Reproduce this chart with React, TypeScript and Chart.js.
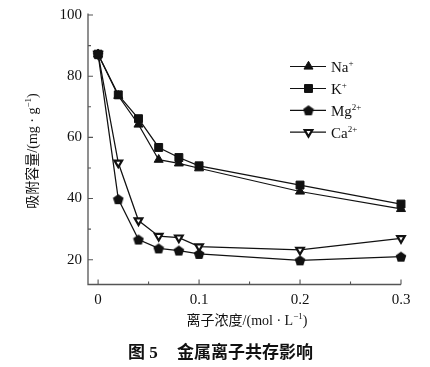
import React, { useEffect, useRef } from 'react';
import { Chart, registerables } from 'chart.js';
import * as helpers from 'chart.js/helpers';

Chart.register(...registerables);

// ---- data ----
const concentrations = [0, 0.02, 0.04, 0.06, 0.08, 0.1, 0.2, 0.3];
const naValues = [87.2, 73.6, 64.2, 52.7, 51.5, 49.9, 42.3, 36.6];
const kValues = [87.2, 73.9, 66.1, 56.7, 53.4, 50.7, 44.4, 38.2];
const mgValues = [87.2, 39.8, 26.6, 23.7, 23.0, 21.9, 19.8, 21.0];
const caValues = [87.2, 51.7, 32.8, 27.7, 27.2, 24.3, 23.2, 27.0];
const seriesNames = ['Na', 'K', 'Mg', 'Ca'];
const seriesCharges = ['+', '+', '2+', '2+'];
const yMajorTicks = [20, 40, 60, 80, 100];
const yMinorTicks = [30, 50, 70, 90];
const xMajorTicks = [0, 0.1, 0.2, 0.3];
const xMinorTicks = [0.05, 0.15, 0.25];
const yTitleParts: [string, boolean][] = [['吸附容量/(mg · g', false], ['−1', true], [')', false]];
const xTitleParts: [string, boolean][] = [['离子浓度/(mol · L', false], ['−1', true], [')', false]];
const captionLeft = '图 5';
const captionRight = '金属离子共存影响';

const FAMILY = "'Liberation Serif', 'Noto Sans CJK SC', serif";
const INK = '#111';
const AXIS = '#555';

function makePentagon(): HTMLCanvasElement {
  const c = document.createElement('canvas');
  c.width = 12;
  c.height = 12;
  const g = c.getContext('2d')!;
  g.fillStyle = INK;
  g.beginPath();
  for (let i = 0; i < 5; i++) {
    const a = -Math.PI / 2 + (i * 2 * Math.PI) / 5;
    const px = 6 + 5.6 * Math.cos(a);
    const py = 6.5 + 5.6 * Math.sin(a);
    if (i === 0) g.moveTo(px, py);
    else g.lineTo(px, py);
  }
  g.closePath();
  g.fill();
  return c;
}

function drawRich(
  ctx: CanvasRenderingContext2D,
  parts: [string, boolean][],
  x: number,
  y: number,
  size: number,
  align: 'left' | 'center',
  weight = ''
) {
  const supSize = Math.round(size * 0.62);
  const fontN = `${weight} ${size}px ${FAMILY}`;
  const fontS = `${weight} ${supSize}px ${FAMILY}`;
  let total = 0;
  const widths = parts.map(([t, sup]) => {
    ctx.font = sup ? fontS : fontN;
    const w = ctx.measureText(t).width;
    total += w;
    return w;
  });
  let cx = align === 'center' ? x - total / 2 : x;
  ctx.textAlign = 'left';
  ctx.textBaseline = 'alphabetic';
  parts.forEach(([t, sup], i) => {
    ctx.font = sup ? fontS : fontN;
    ctx.fillText(t, cx, sup ? y - size * 0.4 : y);
    cx += widths[i];
  });
}

export default function App() {
  const ref = useRef<HTMLCanvasElement | null>(null);

  useEffect(() => {
    if (!ref.current) return;
    const pent = makePentagon();
    const mk = (v: number[]) => concentrations.map((x, i) => ({ x, y: v[i] }));

    const styles: any[] = [
      { pointStyle: 'triangle', radius: 5.2, rotation: 0, bg: INK, bw: 1 },
      { pointStyle: 'rect', radius: 5.6, rotation: 0, bg: INK, bw: 1 },
      { pointStyle: pent, radius: 5, rotation: 0, bg: INK, bw: 1 },
      { pointStyle: 'triangle', radius: 4.4, rotation: 180, bg: '#fff', bw: 2.2 },
    ];
    const allValues = [naValues, kValues, mgValues, caValues];

    const datasets = allValues.map((v, i) => ({
      label: seriesNames[i] + seriesCharges[i],
      data: mk(v),
      borderColor: INK,
      borderWidth: 1.25,
      pointStyle: styles[i].pointStyle,
      pointRadius: styles[i].radius,
      pointRotation: styles[i].rotation,
      pointBackgroundColor: styles[i].bg,
      pointBorderColor: INK,
      pointBorderWidth: styles[i].bw,
      tension: 0,
      clip: false as any,
    }));

    const custom = {
      id: 'custom',
      beforeDatasetsDraw(chart: any) {
        const ctx = chart.ctx as CanvasRenderingContext2D;
        const a = chart.chartArea;
        const xs = chart.scales.x;
        const ys = chart.scales.y;
        ctx.save();
        ctx.strokeStyle = AXIS;
        ctx.lineWidth = 1.3;
        ctx.beginPath();
        ctx.moveTo(a.left, a.top - 1.5);
        ctx.lineTo(a.left, a.bottom);
        ctx.lineTo(a.right, a.bottom);
        ctx.stroke();
        ctx.lineWidth = 1.1;
        ctx.beginPath();
        yMajorTicks.forEach((v) => {
          const p = ys.getPixelForValue(v);
          ctx.moveTo(a.left, p);
          ctx.lineTo(a.left + 5, p);
        });
        yMinorTicks.forEach((v) => {
          const p = ys.getPixelForValue(v);
          ctx.moveTo(a.left, p);
          ctx.lineTo(a.left + 3, p);
        });
        xMajorTicks.forEach((v) => {
          const p = xs.getPixelForValue(v);
          ctx.moveTo(p, a.bottom);
          ctx.lineTo(p, a.bottom - 5);
        });
        xMinorTicks.forEach((v) => {
          const p = xs.getPixelForValue(v);
          ctx.moveTo(p, a.bottom);
          ctx.lineTo(p, a.bottom - 3);
        });
        ctx.stroke();
        ctx.restore();
      },
      afterDraw(chart: any) {
        const ctx = chart.ctx as CanvasRenderingContext2D;
        ctx.save();
        ctx.fillStyle = INK;
        // legend
        const rowY = [66.5, 88.5, 110.3, 132.2];
        seriesNames.forEach((name, i) => {
          const y = rowY[i];
          ctx.strokeStyle = INK;
          ctx.lineWidth = 1.2;
          ctx.beginPath();
          ctx.moveTo(290, y);
          ctx.lineTo(326, y);
          ctx.stroke();
          ctx.fillStyle = styles[i].bg;
          ctx.strokeStyle = INK;
          ctx.lineWidth = styles[i].bw;
          (helpers as any).drawPoint(
            ctx,
            { pointStyle: styles[i].pointStyle, rotation: styles[i].rotation, radius: styles[i].radius, borderWidth: styles[i].bw },
            308.5,
            y
          );
          ctx.fillStyle = INK;
          drawRich(ctx, [[name, false], [seriesCharges[i], true]], 331, y + 5.5, 15, 'left');
        });
        // x title
        drawRich(ctx, xTitleParts, 247, 325, 14, 'center');
        // y title
        ctx.save();
        ctx.translate(37, 151);
        ctx.rotate(-Math.PI / 2);
        drawRich(ctx, yTitleParts, 0, 0, 14, 'center');
        ctx.restore();
        // caption
        ctx.font = `bold 17px ${FAMILY}`;
        ctx.textAlign = 'left';
        ctx.textBaseline = 'alphabetic';
        ctx.fillText(captionLeft, 128, 358);
        ctx.fillText(captionRight, 177, 358);
        ctx.restore();
      },
    };

    const chart = new Chart(ref.current, {
      type: 'line',
      data: { datasets },
      options: {
        animation: false,
        responsive: false,
        devicePixelRatio: 1,
        layout: { padding: { left: 0, right: 29, top: 8.5, bottom: 0 } },
        plugins: { legend: { display: false }, tooltip: { enabled: false }, title: { display: false } },
        scales: {
          x: {
            type: 'linear',
            min: -0.01,
            max: 0.3,
            grid: { display: false, drawTicks: false },
            border: { display: false },
            afterBuildTicks: (s: any) => {
              s.ticks = xMajorTicks.map((v) => ({ value: v }));
            },
            afterFit: (s: any) => {
              s.height = 82.5;
            },
            ticks: {
              padding: 7,
              maxRotation: 0,
              autoSkip: false,
              color: INK,
              font: { family: FAMILY, size: 15 },
              callback: (v: any) => (Number(v) === 0 ? '0' : Number(v).toFixed(1)),
            },
          },
          y: {
            type: 'linear',
            min: 11.9,
            max: 100,
            grid: { display: false, drawTicks: false },
            border: { display: false },
            afterBuildTicks: (s: any) => {
              s.ticks = yMajorTicks.map((v) => ({ value: v }));
            },
            afterFit: (s: any) => {
              s.width = 88;
            },
            ticks: {
              padding: 6,
              autoSkip: false,
              color: INK,
              font: { family: FAMILY, size: 15 },
              callback: (v: any) => String(v),
            },
          },
        },
      },
      plugins: [custom],
    } as any);

    return () => chart.destroy();
  }, []);

  return (
    <div style={{ position: 'absolute', left: 0, top: 0, width: 430, height: 367, background: '#fff' }}>
      <canvas ref={ref} width={430} height={367} style={{ width: 430, height: 367, display: 'block' }} />
    </div>
  );
}
